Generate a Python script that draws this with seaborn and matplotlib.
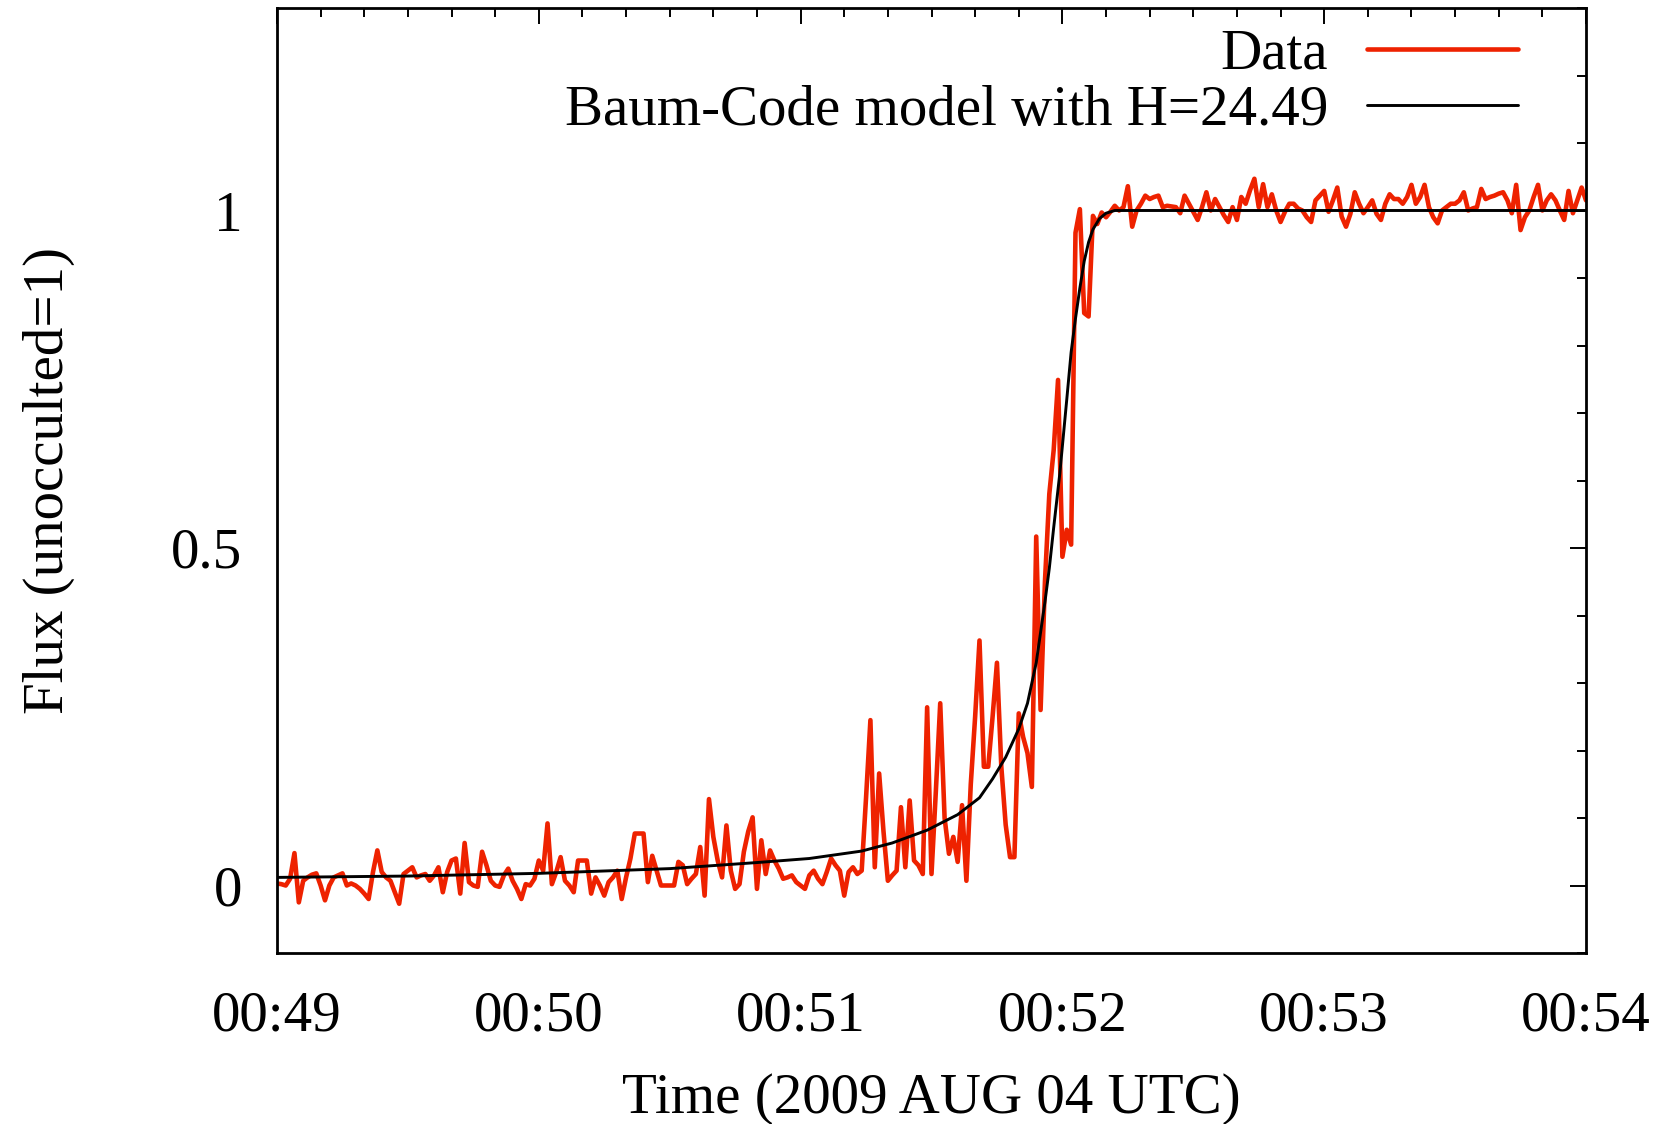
import numpy as np
import pandas as pd
import matplotlib
matplotlib.use("Agg")
import matplotlib.pyplot as plt
import seaborn as sns

# ---- data (time in seconds after 00:49:00 UTC) ----
data_flux = [
    0.003, 0.002, 0.0, 0.01, 0.048, -0.025, 0.007, 0.012, 0.016, 0.018,
    0.0, -0.022, 0.0, 0.012, 0.015, 0.018, 0.0, 0.003, 0.0, -0.005,
    -0.012, -0.02, 0.02, 0.052, 0.02, 0.012, 0.007, -0.01, -0.027, 0.017,
    0.022, 0.027, 0.012, 0.015, 0.017, 0.007, 0.015, 0.027, -0.01, 0.02,
    0.037, 0.04, -0.012, 0.063, 0.005, 0.0, -0.002, 0.05, 0.03, 0.007,
    0.0, -0.002, 0.015, 0.025, 0.007, -0.005, -0.02, 0.002, 0.0, 0.01,
    0.037, 0.022, 0.092, 0.002, 0.02, 0.042, 0.007, 0.0, -0.01, 0.037,
    0.037, 0.037, -0.012, 0.012, 0.0, -0.015, 0.005, 0.012, 0.022, -0.02,
    0.012, 0.04, 0.077, 0.077, 0.077, 0.005, 0.044, 0.022, 0.0, 0.0,
    0.0, 0.0, 0.035, 0.03, 0.002, 0.01, 0.017, 0.057, -0.015, 0.128,
    0.072, 0.037, 0.012, 0.089, 0.022, -0.005, 0.002, 0.05, 0.08, 0.101,
    -0.005, 0.067, 0.017, 0.052, 0.037, 0.025, 0.01, 0.012, 0.015, 0.005,
    0.0, -0.005, 0.015, 0.022, 0.01, 0.002, 0.02, 0.04, 0.03, 0.022,
    -0.015, 0.02, 0.027, 0.017, 0.022, 0.13, 0.245, 0.027, 0.166, 0.08,
    0.007, 0.015, 0.022, 0.116, 0.027, 0.126, 0.037, 0.03, 0.017, 0.264,
    0.017, 0.14, 0.27, 0.1, 0.047, 0.072, 0.035, 0.119, 0.007, 0.15,
    0.25, 0.363, 0.176, 0.176, 0.25, 0.33, 0.176, 0.09, 0.042, 0.042,
    0.255, 0.22, 0.196, 0.146, 0.517, 0.26, 0.45, 0.58, 0.645, 0.749,
    0.487, 0.527, 0.505, 0.967, 1.002, 0.848, 0.843, 0.992, 0.98, 0.997,
    0.99, 0.998, 1.007, 1.0, 1.005, 1.036, 0.976, 1.0, 1.01, 1.022,
    1.017, 1.02, 1.022, 1.005, 1.007, 1.006, 1.005, 0.996, 1.022, 1.01,
    0.998, 0.986, 1.005, 1.027, 1.0, 1.017, 1.005, 0.993, 0.983, 1.005,
    0.986, 1.02, 1.01, 1.03, 1.047, 1.005, 1.039, 1.005, 1.024, 1.0,
    0.983, 0.998, 1.01, 1.01, 1.003, 1.0, 0.99, 0.983, 1.015, 1.022,
    1.029, 0.998, 1.015, 1.034, 0.991, 0.976, 0.995, 1.027, 1.01, 0.996,
    1.005, 1.015, 0.995, 0.986, 1.01, 1.024, 1.017, 1.017, 1.01, 1.02,
    1.038, 1.01, 1.02, 1.038, 1.005, 0.99, 0.981, 1.0, 1.005, 1.01,
    1.01, 1.015, 1.027, 1.0, 1.003, 1.005, 1.032, 1.017, 1.02, 1.022,
    1.025, 1.027, 1.015, 0.996, 1.038, 0.971, 0.99, 1.0, 1.02, 1.038,
    1.0, 1.015, 1.024, 1.015, 1.0, 0.986, 1.029, 0.996, 1.015, 1.034,
    1.015,
]
data_time = list(range(len(data_flux)))

model_time = [0, 30, 60, 90, 110, 122, 134, 141, 149, 156, 161, 164, 167,
              170, 172, 174, 176, 177, 178, 179.4, 181, 182, 183, 184, 185,
              186, 187, 188.5, 190, 192, 300]
model_flux = [0.012, 0.014, 0.018, 0.025, 0.034, 0.04, 0.051, 0.063, 0.082,
              0.105, 0.13, 0.158, 0.19, 0.232, 0.27, 0.33, 0.42, 0.47, 0.53,
              0.61, 0.72, 0.79, 0.84, 0.885, 0.925, 0.953, 0.972, 0.988,
              0.996, 1.0, 1.0]

xtick_pos = [0, 60, 120, 180, 240, 300]
xtick_labels = ["00:49", "00:50", "00:51", "00:52", "00:53", "00:54"]
ytick_pos = [0, 0.5, 1]
ytick_labels = ["0", "0.5", "1"]

label_data = "Data"
label_model = "Baum-Code model with H=24.49"

# ---- style ----
sns.set_style("white")
plt.rcParams["font.family"] = ["Liberation Serif", "DejaVu Serif"]
for k in ["text.color", "axes.labelcolor", "xtick.color", "ytick.color", "axes.edgecolor"]:
    plt.rcParams[k] = "black"

FS = 41
LW_DATA = 3.3
LW_MODEL = 2.1
fig = plt.figure(figsize=(16.62, 11.24), dpi=100)
fig.patch.set_facecolor("white")
ax = fig.add_axes([277 / 1662, 1 - 953 / 1124, (1586 - 277) / 1662, (953 - 8) / 1124])

df_data = pd.DataFrame({"t": data_time, "f": data_flux})
df_model = pd.DataFrame({"t": model_time, "f": model_flux})

sns.lineplot(data=df_data, x="t", y="f", ax=ax, color="#ee2200", lw=LW_DATA,
             label=label_data, sort=False, estimator=None)
sns.lineplot(data=df_model, x="t", y="f", ax=ax, color="black", lw=LW_MODEL,
             label=label_model, sort=False, estimator=None)

ax.set_xlim(0, 300)
ax.set_ylim(-0.1, 1.3)
ax.set_xticks(xtick_pos)
ax.set_xticklabels(xtick_labels)
ax.set_yticks(ytick_pos)
ax.set_yticklabels(ytick_labels)
ax.set_xticks(np.arange(0, 301, 10), minor=True)
ax.set_yticks(np.arange(-0.1, 1.31, 0.1), minor=True)

ax.tick_params(axis="both", which="major", direction="in", length=11.5, width=1.4,
               top=True, right=True, labelsize=FS, colors="black")
ax.tick_params(axis="both", which="minor", direction="in", length=6.5, width=1.4,
               top=True, right=True)
ax.tick_params(axis="x", which="major", pad=27)
ax.tick_params(axis="y", which="major", pad=25)
for s in ax.spines.values():
    s.set_linewidth(2.0)
    s.set_color("black")
    s.set_visible(True)

ax.set_xlabel("Time (2009 AUG 04 UTC)", fontsize=FS)
ax.set_ylabel("Flux (unocculted=1)", fontsize=FS)
ax.xaxis.set_label_coords(0.5, -0.127)
ax.yaxis.set_label_coords(-0.154, 0.5)

leg = ax.legend(loc="upper right", bbox_to_anchor=(0.948, 0.978), frameon=False,
                fontsize=FS, markerfirst=False, handlelength=2.65,
                handletextpad=0.68, borderpad=0, borderaxespad=0, labelspacing=0.08)
for h in leg.get_lines():
    h.set_linewidth(LW_DATA if h.get_color() != "black" else LW_MODEL)

fig.savefig("out.png", dpi=100, facecolor="white")
